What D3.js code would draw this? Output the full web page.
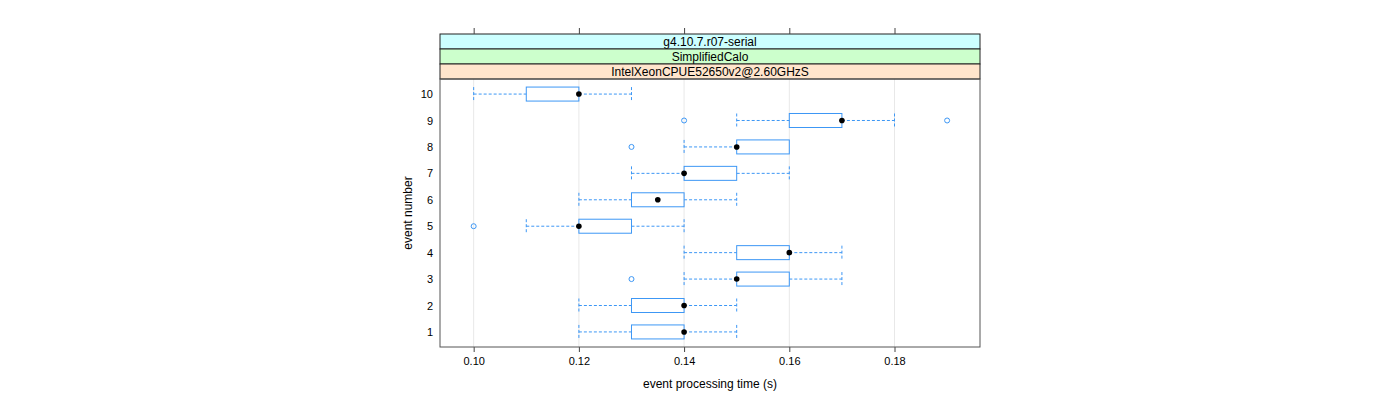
<!DOCTYPE html>
<html><head><meta charset="utf-8">
<script src="https://cdn.jsdelivr.net/npm/d3@7"></script>
<style>body{margin:0;background:#fff;} text{font-family:"Liberation Sans",Arial,sans-serif;}</style>
</head><body><svg id="c" width="1400" height="400"></svg>
<script>
const events = [1,2,3,4,5,6,7,8,9,10];
const whiskerLow  = [0.12,0.12,0.14,0.14,0.11,0.12,0.13,0.14,0.15,0.10];
const boxLow      = [0.13,0.13,0.15,0.15,0.12,0.13,0.14,0.15,0.16,0.11];
const medians     = [0.14,0.14,0.15,0.16,0.12,0.135,0.14,0.15,0.17,0.12];
const boxHigh     = [0.14,0.14,0.16,0.16,0.13,0.14,0.15,0.16,0.17,0.12];
const whiskerHigh = [0.15,0.15,0.17,0.17,0.14,0.15,0.16,0.16,0.18,0.13];
const outliers = [[],[],[0.13],[],[0.10],[],[],[0.13],[0.14,0.19],[]];
const xTicks = [0.10,0.12,0.14,0.16,0.18];
const strips = ["g4.10.7.r07-serial","SimplifiedCalo","IntelXeonCPUE52650v2@2.60GHzS"];
const stripColors = ["#ccffff","#ccffcc","#ffe5cc"];

const svg = d3.select("#c");
const L=440, R=980, T=79, B=347, stripTop=34, stripH=15;
const x = d3.scaleLinear().domain([0.0936,0.19625]).range([L,R]);
const y = d3.scaleLinear().domain([0.43,10.57]).range([B,T]);
const blue="#3d97f5";

// grid
svg.append("g").selectAll("line").data(xTicks).join("line")
  .attr("x1",d=>x(d)).attr("x2",d=>x(d)).attr("y1",T).attr("y2",B)
  .attr("stroke","#e8e8e8").attr("stroke-width",1);

// strips
strips.forEach((s,i)=>{
  const yy=stripTop+i*stripH;
  svg.append("rect").attr("x",L).attr("y",yy).attr("width",R-L).attr("height",stripH)
    .attr("fill",stripColors[i]).attr("stroke","#222").attr("stroke-width",1);
  svg.append("text").attr("x",(L+R)/2).attr("y",yy+stripH/2+4.5).attr("text-anchor","middle")
    .attr("font-size",12).attr("fill","#000").text(s);
});

// axes
const xb = d3.axisBottom(x).tickValues(xTicks).tickFormat(d3.format(".2f")).tickSize(5).tickSizeOuter(0);
const gb = svg.append("g").attr("transform",`translate(0,${B})`).call(xb);
gb.select(".domain").remove();
gb.selectAll("line").attr("stroke","#444");
gb.selectAll("text").attr("font-size",11).attr("fill","#000").attr("dy","0.9em").attr("font-family","Liberation Sans, Arial, sans-serif");
const xt = d3.axisTop(x).tickValues(xTicks).tickFormat("").tickSize(6).tickSizeOuter(0);
const gt = svg.append("g").attr("transform",`translate(0,${stripTop})`).call(xt);
gt.select(".domain").remove();
gt.selectAll("line").attr("stroke","#444");

const yl = d3.axisLeft(y).tickValues(events).tickFormat(d3.format("d")).tickSize(0).tickPadding(7);
const gl = svg.append("g").attr("transform",`translate(${L},0)`).call(yl);
gl.select(".domain").remove();
gl.selectAll("text").attr("font-size",11).attr("fill","#000").attr("font-family","Liberation Sans, Arial, sans-serif");

// panel border
svg.append("rect").attr("x",L).attr("y",T).attr("width",R-L).attr("height",B-T)
  .attr("fill","none").attr("stroke","#555").attr("stroke-width",1);

// boxes
const h=14;
const g = svg.append("g");
events.forEach((e,i)=>{
  const cy=y(e);
  // whiskers
  [[whiskerLow[i],boxLow[i]],[boxHigh[i],whiskerHigh[i]]].forEach(([a,b])=>{
    if(a===b) return;
    g.append("line").attr("x1",x(a)).attr("x2",x(b)).attr("y1",cy).attr("y2",cy)
      .attr("stroke",blue).attr("stroke-dasharray","3,2");
  });
  [whiskerLow[i],whiskerHigh[i]].forEach((v,k)=>{
    if((k===0 && v===boxLow[i])||(k===1 && v===boxHigh[i])) return;
    g.append("line").attr("x1",x(v)).attr("x2",x(v)).attr("y1",cy-h/2).attr("y2",cy+h/2)
      .attr("stroke",blue).attr("stroke-dasharray","3,2");
  });
  g.append("rect").attr("x",x(boxLow[i])).attr("y",cy-h/2).attr("width",x(boxHigh[i])-x(boxLow[i])).attr("height",h)
    .attr("fill","none").attr("stroke",blue).attr("stroke-width",1);
  g.append("circle").attr("cx",x(medians[i])).attr("cy",cy).attr("r",2.8).attr("fill","#000");
  outliers[i].forEach(o=>{
    g.append("circle").attr("cx",x(o)).attr("cy",cy).attr("r",2.5).attr("fill","none").attr("stroke",blue).attr("stroke-width",1);
  });
});

// labels
svg.append("text").attr("x",(L+R)/2).attr("y",388).attr("text-anchor","middle").attr("font-size",12).text("event processing time (s)");
svg.append("text").attr("transform",`translate(412,${(T+B)/2}) rotate(-90)`).attr("text-anchor","middle").attr("font-size",12).text("event number");
</script></body></html>
